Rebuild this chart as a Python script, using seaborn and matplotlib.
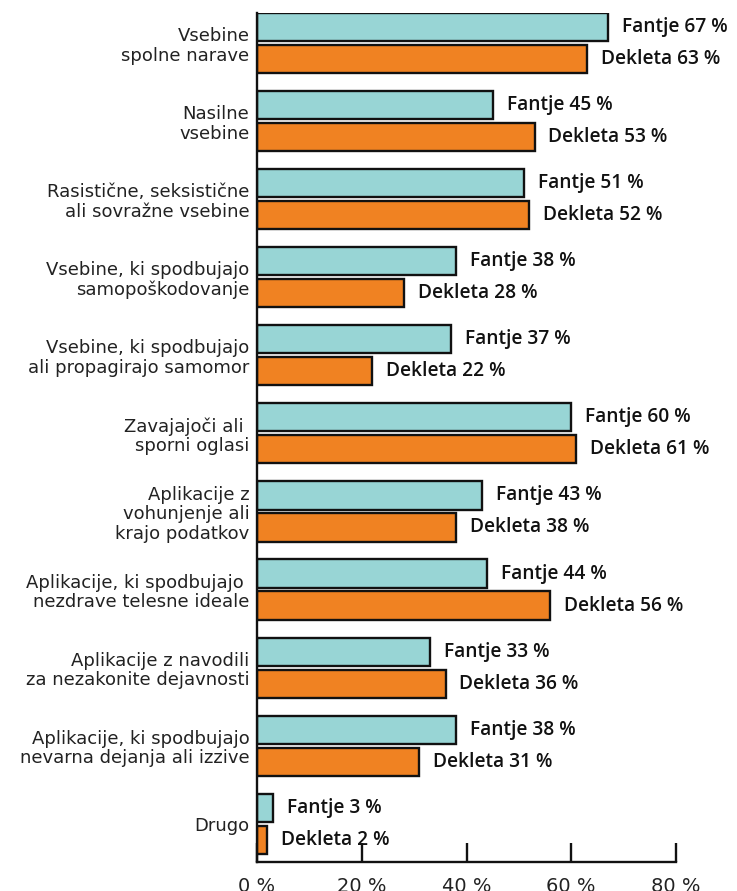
import matplotlib
matplotlib.use("Agg")
import matplotlib.pyplot as plt
import seaborn as sns
import pandas as pd

categories = [
    "Vsebine\nspolne narave",
    "Nasilne\nvsebine",
    "Rasistične, seksistične\nali sovražne vsebine",
    "Vsebine, ki spodbujajo\nsamopoškodovanje",
    "Vsebine, ki spodbujajo\nali propagirajo samomor",
    "Zavajajoči ali \nsporni oglasi",
    "Aplikacije z\nvohunjenje ali\nkrajo podatkov",
    "Aplikacije, ki spodbujajo \nnezdrave telesne ideale",
    "Aplikacije z navodili\nza nezakonite dejavnosti",
    "Aplikacije, ki spodbujajo\nnevarna dejanja ali izzive",
    "Drugo",
]
fantje = [67, 45, 51, 38, 37, 60, 43, 44, 33, 38, 3]
dekleta = [63, 53, 52, 28, 22, 61, 38, 56, 36, 31, 2]
series = ["Fantje", "Dekleta"]
x_ticks = [0, 20, 40, 60, 80]
x_tick_labels = ["0 %", "20 %", "40 %", "60 %", "80 %"]

df = pd.DataFrame({
    "kategorija": categories * 2,
    "skupina": [series[0]] * len(categories) + [series[1]] * len(categories),
    "delez": fantje + dekleta,
})

sns.set_theme(style="white")
plt.rcParams["font.family"] = ["DejaVu Sans"]

fig = plt.figure(figsize=(7.37, 8.91), dpi=100)
ax = fig.add_axes([257 / 737, 1 - 862 / 891, (676 - 257) / 737, (862 - 13) / 891])

palette = {"Fantje": "#98D5D5", "Dekleta": "#F08222"}
sns.barplot(
    data=df, y="kategorija", x="delez", hue="skupina", hue_order=series,
    order=categories, palette=palette, orient="h", width=0.82, gap=0.12,
    edgecolor="#111111", linewidth=1.7, saturation=1, legend=False, ax=ax,
)

# value labels at the end of every bar
for container, name in zip(ax.containers, series):
    labels = [f"{name} {v:g} %" for v in container.datavalues]
    ax.bar_label(container, labels=labels, padding=10, fontsize=13.8,
                 fontweight="semibold", color="#111111", clip_on=False,
                 family=["Open Sans", "DejaVu Sans"])

ax.set_xlim(0, 80)
ax.set_ylim(10.49, -0.385)
ax.set_xticks(x_ticks)
ax.set_xticklabels(x_tick_labels, fontsize=14, color="#222222")
ax.set_xlabel("")
ax.set_ylabel("")
ax.tick_params(axis="x", direction="in", length=14, width=1.7, pad=11,
               color="#111111", bottom=True)
ax.tick_params(axis="y", length=0, pad=5.5, labelsize=13, labelcolor="#222222")
for lbl in ax.get_yticklabels():
    lbl.set_linespacing(1.12)

for side in ["top", "right"]:
    ax.spines[side].set_visible(False)
for side in ["left", "bottom"]:
    ax.spines[side].set_color("#111111")
    ax.spines[side].set_linewidth(1.7)

fig.savefig("out.png", dpi=100)
